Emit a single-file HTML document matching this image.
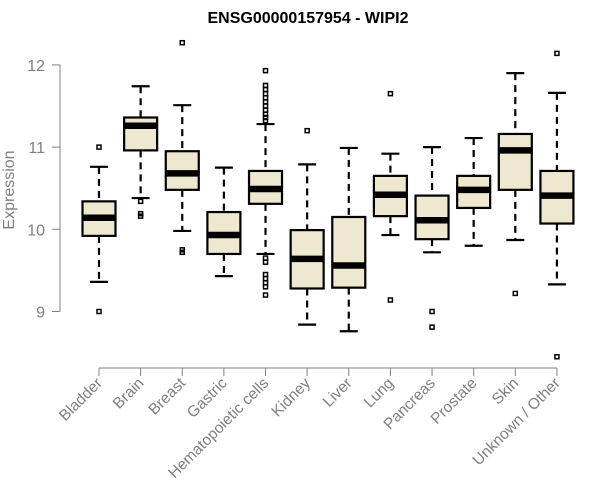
<!DOCTYPE html>
<html><head><meta charset="utf-8"><style>
body{margin:0;background:#fff;}
svg{display:block;font-family:"Liberation Sans",Arial,sans-serif;}
</style></head><body>
<svg id="chart" width="600" height="500" viewBox="0 0 600 500">
<text x="308" y="23" text-anchor="middle" font-weight="bold" font-size="16">ENSG00000157954 - WIPI2</text>
<text transform="translate(14,190) rotate(-90)" text-anchor="middle" font-size="16" fill="#808080">Expression</text>
<g id="axes"></g><g id="boxes"></g>
</svg>
<script>
const categories=["Bladder","Brain","Breast","Gastric","Hematopoietic cells","Kidney","Liver","Lung","Pancreas","Prostate","Skin","Unknown / Other"];
const lowWhisker=[9.36,10.38,9.98,9.43,9.70,8.84,8.76,9.93,9.72,9.80,9.87,9.33];
const q1=[9.92,10.96,10.48,9.70,10.31,9.28,9.29,10.16,9.88,10.26,10.48,10.07];
const medians=[10.14,11.26,10.68,9.93,10.49,9.64,9.56,10.42,10.11,10.48,10.96,10.41];
const q3=[10.34,11.36,10.95,10.21,10.71,9.99,10.15,10.65,10.41,10.65,11.16,10.71];
const highWhisker=[10.76,11.74,11.51,10.75,11.28,10.79,10.99,10.92,11.00,11.11,11.90,11.66];
const outliers=[[11.0,9.0],[10.34,10.19,10.16],[12.27,9.75,9.72],[],[11.32,11.36,11.4,11.45,11.5,11.55,11.6,11.65,11.7,11.75,11.93,9.65,9.6,9.45,9.4,9.35,9.3,9.2],[11.2],[],[11.65,9.14],[9.0,8.81],[],[9.22],[12.14,8.45]];
const yTicks=[9,10,11,12];
const NS="http://www.w3.org/2000/svg";
function yS(v){return 229.3-(v-10)*82.2;}
function xS(i){return 99+i*41.63;}
function mk(tag,attrs,parent){const e=document.createElementNS(NS,tag);for(const k in attrs)e.setAttribute(k,attrs[k]);parent.appendChild(e);return e;}
const ax=document.getElementById('axes'),bx=document.getElementById('boxes');
const yl=mk('line',{x1:60,x2:60,y1:yS(12),y2:yS(9),stroke:'#808080'},ax);


yTicks.forEach(t=>{
 const l=mk('line',{x1:52,x2:60,y1:yS(t),y2:yS(t),stroke:'#808080'},ax);
 
 
 const tx=mk('text',{x:45,y:yS(t)+6,'text-anchor':'end','font-size':16,fill:'#808080'},ax);
 tx.textContent=t;
 
 
});
const xl=mk('line',{x1:xS(0),x2:xS(11),y1:368,y2:368,stroke:'#808080'},ax);


categories.forEach((c,i)=>{
 const x=xS(i);
 const t=mk('line',{x1:x,x2:x,y1:368,y2:376,stroke:'#808080'},ax);
 
 
 const lb=mk('text',{transform:`translate(${x+4},${384}) rotate(-45)`,'text-anchor':'end','font-size':15.5,fill:'#808080'},ax);
 lb.textContent=c;
 
 
 const g=mk('g',{},bx);
 
 
 mk('line',{x1:x,x2:x,y1:yS(highWhisker[i]),y2:yS(q3[i]),stroke:'#000','stroke-width':2.2,'stroke-dasharray':'7,5'},g);
 mk('line',{x1:x,x2:x,y1:yS(q1[i]),y2:yS(lowWhisker[i]),stroke:'#000','stroke-width':2.2,'stroke-dasharray':'7,5'},g);
 mk('line',{x1:x-9,x2:x+9,y1:yS(highWhisker[i]),y2:yS(highWhisker[i]),stroke:'#000','stroke-width':2.2},g);
 mk('line',{x1:x-9,x2:x+9,y1:yS(lowWhisker[i]),y2:yS(lowWhisker[i]),stroke:'#000','stroke-width':2.2},g);
 mk('rect',{x:x-16.5,y:yS(q3[i]),width:33,height:yS(q1[i])-yS(q3[i]),fill:'#ede8cf',stroke:'#000','stroke-width':2.2},g);
 mk('line',{x1:x-16.5,x2:x+16.5,y1:yS(medians[i]),y2:yS(medians[i]),stroke:'#000','stroke-width':6.5},g);
 outliers[i].forEach(o=>{mk('rect',{x:x-2,y:yS(o)-2,width:4,height:4,fill:'none',stroke:'#000','stroke-width':1.5},g);});
});
</script>
</body></html>
